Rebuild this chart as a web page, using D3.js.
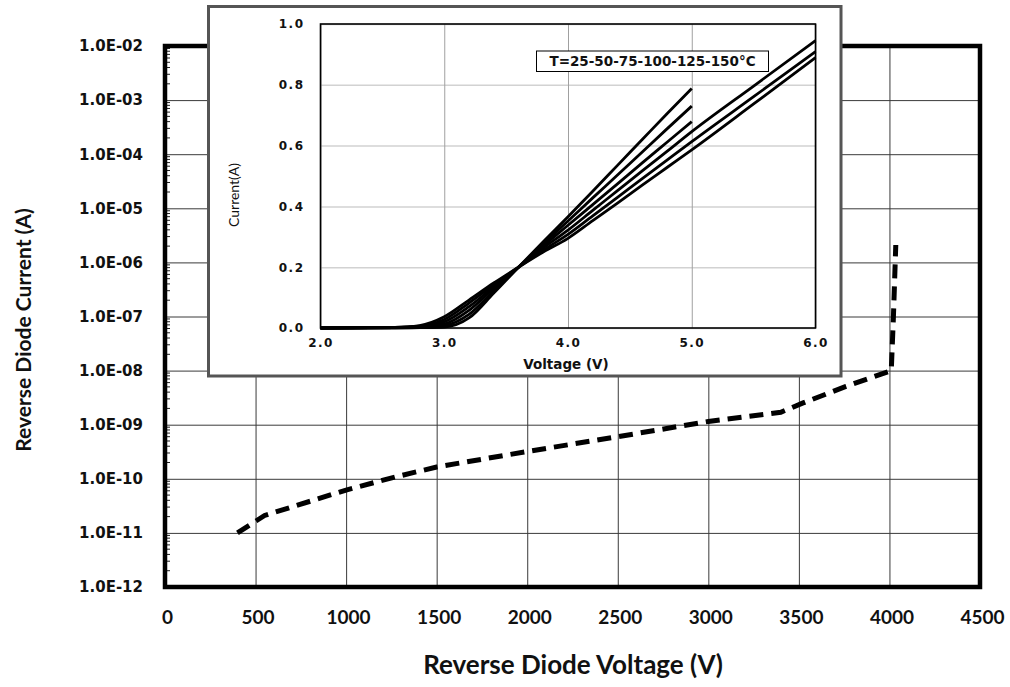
<!DOCTYPE html>
<html>
<head>
<meta charset="utf-8">
<script src="https://cdn.jsdelivr.net/npm/d3@7"></script>
<style>
  body { margin: 0; background: #fff; }
  svg { display: block; }
  .ytick text { font-family: "DejaVu Sans", Verdana, sans-serif; font-weight: bold; font-size: 15px; }
  .xtick text { font-family: Lato, sans-serif; font-weight: bold; font-size: 19px; }
  .inset-tick text { font-family: "DejaVu Sans", Verdana, sans-serif; font-weight: bold; font-size: 12px; letter-spacing: 1.5px; }
</style>
</head>
<body>
<div class="chart"></div>
<script>
const WIDTH = 1010;
const HEIGHT = 687;

// main chart data
var voltageTicks = [0, 500, 1000, 1500, 2000, 2500, 3000, 3500, 4000, 4500];
var currentTicks = [1e-12, 1e-11, 1e-10, 1e-9, 1e-8, 1e-7, 1e-6, 1e-5, 1e-4, 1e-3, 1e-2];
var mainVoltage = [400, 550, 1000, 1280, 1500, 2000, 2500, 3000, 3400, 3520, 3760, 4010, 4022, 4035];
var mainCurrent = [1e-11, 2.1e-11, 6.2e-11, 1.1e-10, 1.65e-10, 3.2e-10, 6.0e-10, 1.15e-9, 1.7e-9, 2.5e-9, 5.1e-9, 1.0e-8, 1.0e-7, 2.1e-6];

// inset data
var temperatures = [25, 50, 75, 100, 125, 150];
var insetVTicks = [2.0, 3.0, 4.0, 5.0, 6.0];
var insetITicks = [0.0, 0.2, 0.4, 0.6, 0.8, 1.0];
var insetVoltage = [2.0, 2.6, 2.8, 3.0, 3.2, 3.4, 3.6, 3.8, 4.0, 4.2, 4.4, 4.6, 4.8, 5.0, 5.5, 6.0];
var cur25  = [0, 0.000, 0.001, 0.003, 0.033, 0.115, 0.200, 0.284, 0.366, 0.450, 0.535, 0.620, 0.705, 0.788];
var cur50  = [0, 0.001, 0.002, 0.008, 0.045, 0.122, 0.200, 0.277, 0.352, 0.428, 0.503, 0.579, 0.655, 0.730];
var cur75  = [0, 0.001, 0.004, 0.013, 0.058, 0.130, 0.200, 0.270, 0.338, 0.406, 0.474, 0.543, 0.611, 0.679];
var cur100 = [0, 0.001, 0.005, 0.020, 0.070, 0.136, 0.200, 0.263, 0.322, 0.387, 0.452, 0.517, 0.581, 0.646, 0.796, 0.945];
var cur125 = [0, 0.002, 0.006, 0.028, 0.082, 0.142, 0.200, 0.256, 0.308, 0.369, 0.430, 0.491, 0.552, 0.613, 0.761, 0.909];
var cur150 = [0, 0.002, 0.008, 0.037, 0.092, 0.148, 0.200, 0.250, 0.295, 0.353, 0.411, 0.470, 0.528, 0.586, 0.737, 0.889];
var insetSeries = [cur25, cur50, cur75, cur100, cur125, cur150];

var xScale = d3.scaleLinear().domain([0, 4500]).range([165, 980]);
var yScale = d3.scaleLog().domain([1e-12, 1e-2]).range([587, 46]);

var ixScale = d3.scaleLinear().domain([2, 6]).range([320.5, 815.5]);
var iyScale = d3.scaleLinear().domain([0, 1]).range([328, 24]);

var svg = d3.select('.chart').append('svg')
    .attr('width', WIDTH)
    .attr('height', HEIGHT);

function expFormat(d) {
    var e = Math.round(Math.log10(d));
    return '1.0E-' + String(-e).padStart(2, '0');
}

function drawMain() {
    var g = svg.append('g');

    // horizontal grid + labels
    var yAxis = d3.axisLeft(yScale).tickValues(currentTicks).tickFormat(expFormat)
        .tickSize(-(980 - 165)).tickPadding(22);
    var yg = g.append('g').attr('class', 'ytick').attr('transform', 'translate(165,0)').call(yAxis);
    yg.select('.domain').remove();
    yg.selectAll('line').attr('stroke', '#3a3a3a').attr('stroke-width', 1);
    yg.selectAll('text').attr('fill', '#111');

    // vertical grid + labels
    var xAxis = d3.axisBottom(xScale).tickValues(voltageTicks).tickFormat(d3.format('d'))
        .tickSize(-(587 - 46)).tickPadding(24);
    var xg = g.append('g').attr('class', 'xtick').attr('transform', 'translate(0,587)').call(xAxis);
    xg.select('.domain').remove();
    xg.selectAll('line').attr('stroke', '#3a3a3a').attr('stroke-width', 1);
    xg.selectAll('text').attr('fill', '#111').attr('dx', 2);

    // minor ticks on the log axis
    var minor = [];
    currentTicks.slice(0, -1).forEach(function (d) {
        for (var m = 2; m <= 9; m++) minor.push(d * m);
    });
    g.append('g').selectAll('line').data(minor).enter().append('line')
        .attr('x1', 166).attr('x2', 170)
        .attr('y1', function (d) { return yScale(d); })
        .attr('y2', function (d) { return yScale(d); })
        .attr('stroke', '#222').attr('stroke-width', 1);

    // frame
    g.append('rect')
        .attr('x', 165).attr('y', 46).attr('width', 980 - 165).attr('height', 587 - 46)
        .attr('fill', 'none').attr('stroke', '#000').attr('stroke-width', 4.5);

    var line = d3.line()
        .x(function (d, i) { return xScale(mainVoltage[i]); })
        .y(function (d) { return yScale(d); });
    g.append('path')
        .attr('d', line(mainCurrent))
        .attr('fill', 'none').attr('stroke', '#000')
        .attr('stroke-width', 5).attr('stroke-dasharray', '14,8');

    // axis titles
    g.append('text')
        .attr('transform', 'translate(31,330) rotate(-90)')
        .attr('text-anchor', 'middle')
        .style('font-family', 'Lato, sans-serif').style('font-weight', 'bold').style('font-size', '21px')
        .attr('fill', '#111')
        .text('Reverse Diode Current  (A)');
    g.append('text')
        .attr('x', 573).attr('y', 674)
        .attr('text-anchor', 'middle')
        .style('font-family', 'Lato, sans-serif').style('font-weight', 'bold').style('font-size', '26px')
        .attr('fill', '#111')
        .text('Reverse Diode Voltage (V)');
}

function drawInset() {
    var g = svg.append('g');
    g.append('rect')
        .attr('x', 208.5).attr('y', 6.5).attr('width', 841 - 208.5).attr('height', 376 - 6.5)
        .attr('fill', '#fff').attr('stroke', '#555').attr('stroke-width', 3);

    var yAxis = d3.axisLeft(iyScale).tickValues(insetITicks).tickFormat(d3.format('.1f'))
        .tickSize(-(815.5 - 320.5)).tickPadding(16);
    var yg = g.append('g').attr('class', 'inset-tick').attr('transform', 'translate(320.5,0)').call(yAxis);
    yg.select('.domain').remove();
    yg.selectAll('line').attr('stroke', '#d2d2d2').attr('stroke-width', 1.5);
    yg.selectAll('text').attr('fill', '#111');

    var xAxis = d3.axisBottom(ixScale).tickValues(insetVTicks).tickFormat(d3.format('.1f'))
        .tickSize(-(328 - 24)).tickPadding(10);
    var xg = g.append('g').attr('class', 'inset-tick').attr('transform', 'translate(0,328)').call(xAxis);
    xg.select('.domain').remove();
    xg.selectAll('line').attr('stroke', '#a0a0a0').attr('stroke-width', 1);
    xg.selectAll('text').attr('fill', '#111');

    g.append('rect')
        .attr('x', 320.5).attr('y', 24).attr('width', 815.5 - 320.5).attr('height', 328 - 24)
        .attr('fill', 'none').attr('stroke', '#000').attr('stroke-width', 1.6);

    var line = d3.line()
        .x(function (d, i) { return ixScale(insetVoltage[i]); })
        .y(function (d) { return iyScale(d); })
        .curve(d3.curveMonotoneX);
    g.append('g').selectAll('path').data(insetSeries).enter().append('path')
        .attr('d', function (d) { return line(d); })
        .attr('fill', 'none').attr('stroke', '#000').attr('stroke-width', 2.8);

    // legend box
    g.append('rect')
        .attr('x', 536.5).attr('y', 51).attr('width', 232).attr('height', 20.5)
        .attr('fill', '#fff').attr('stroke', '#000').attr('stroke-width', 1);
    g.append('text')
        .attr('x', 652.5).attr('y', 66)
        .attr('text-anchor', 'middle')
        .style('font-family', '"DejaVu Sans", Verdana, sans-serif').style('font-weight', 'bold').style('font-size', '13.5px')
        .attr('fill', '#111')
        .text('T=' + temperatures.join('-') + '°C');

    g.append('text')
        .attr('transform', 'translate(239,195) rotate(-90)')
        .attr('text-anchor', 'middle')
        .style('font-family', 'Lato, sans-serif').style('font-size', '14px')
        .attr('fill', '#111')
        .text('Current(A)');
    g.append('text')
        .attr('x', 566).attr('y', 369)
        .attr('text-anchor', 'middle')
        .style('font-family', '"DejaVu Sans", Verdana, sans-serif').style('font-weight', 'bold').style('font-size', '13.5px')
        .attr('fill', '#111')
        .text('Voltage (V)');
}

drawMain();
drawInset();
</script>
</body>
</html>
